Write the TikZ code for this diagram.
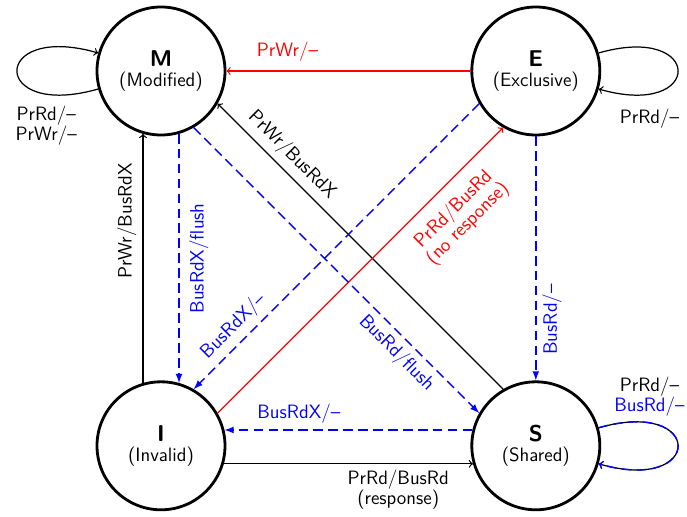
\documentclass[tikz,border=0pt]{standalone}
\usetikzlibrary{positioning}

\begin{document}
\begin{tikzpicture}[node distance = 4.88cm,
    font = \sffamily\fontsize{11}{11.3}\selectfont,
    state/.style = {shape = circle, draw, line width = 1.6pt, minimum size = 2.56cm, align = center},
    lbl/.style = {align = center},
    proc/.style = {->, line width = 0.7pt},
    bus/.style = {-latex, line width = 0.8pt, draw = blue, text = blue, dash pattern = on 5.5pt off 3pt}]
    \useasboundingbox (0,0) rectangle (13.74,10.34);
        \node[state] (M) at (3.22,8.92) {{\fontsize{13}{15}\selectfont\bfseries M}\\(Modified)};
        \node[state, right = of M] (E) {{\fontsize{13}{15}\selectfont\bfseries E}\\(Exclusive)};
        \node[state, below = of M] (I) {{\fontsize{13}{15}\selectfont\bfseries I}\\(Invalid)};
        \node[state, right = of I] (S) {{\fontsize{13}{15}\selectfont\bfseries S}\\(Shared)};
        % self loops
        \draw[proc] (M.196) to[out = 196, in = 164, distance = 2.25cm]
            node[pos = 0.2, below = 3pt, lbl]{PrRd/--\\PrWr/--} (M.164);
        \draw[proc] (E.16) to[out = 16, in = -16, distance = 2.2cm]
            node[pos = 0.8, below = 5pt]{PrRd/--} (E.-16);
        \draw[proc] (S.16) to[out = 16, in = -16, distance = 2.2cm]
            node[pos = 0.2, above, lbl]{PrRd/--\\\textcolor{blue}{BusRd/--}} (S.-16);
        \draw[bus, ->] (S.16) to[out = 16, in = -16, distance = 2.2cm] (S.-16);
        % processor side
        \draw[proc, red] (E) -- node[pos = 0.75, above = 2pt]{PrWr/--} (M);
        \draw[proc] (I.106) -- node[pos = 0.65, sloped, above]{PrWr/BusRdX} (M.-106);
        \draw[proc] (S.120) -- node[pos = 0.78, sloped, above]{PrWr/BusRdX} (M.-30);
        \draw[proc, red] (I.30) -- node[pos = 0.77, sloped, below = 4pt, lbl]{PrRd/BusRd\\(no response)} (E.240);
        \draw[proc] (I.-16) -- node[pos = 0.7, below, lbl]{PrRd/BusRd\\(response)} (S.196);
        % bus side
        \draw[bus] (M.-74) -- node[midway, rotate = 90, anchor = north, yshift = -2pt]{BusRdX/flush} (I.74);
        \draw[bus] (M.-60) -- node[pos = 0.75, sloped, below]{BusRd/flush} (S.150);
        \draw[bus] (E.210) -- node[pos = 0.82, sloped, above]{BusRdX/--} (I.60);
        \draw[bus] (E) -- node[pos = 0.75, rotate = 90, anchor = north]{BusRd/--} (S);
        \draw[bus] (S.166) -- node[pos = 0.7, above]{BusRdX/--} (I.14);
\end{tikzpicture}
\end{document}
